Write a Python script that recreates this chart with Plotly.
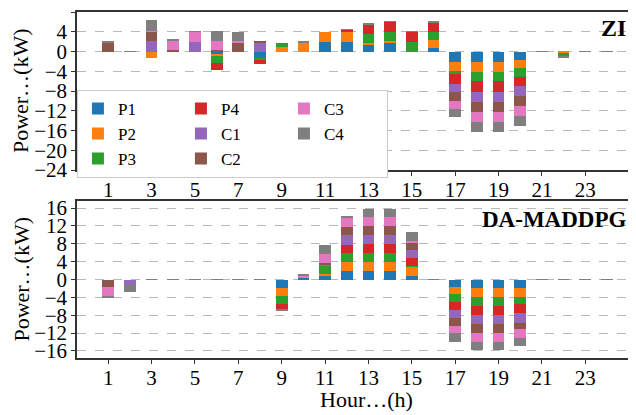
import plotly.graph_objects as go

hours = list(range(1, 25))
series = ["P1", "P2", "P3", "P4", "C1", "C2", "C3", "C4"]
colors = ["#1f77b4", "#ff7f0e", "#2ca02c", "#d62728", "#9467bd", "#8c564b", "#e377c2", "#7f7f7f"]

# ZI (top panel) values per hour 1..24
zi_P1 = [0, 0, 0, 0, 0, -0.4, 0, -1.37, 0, 0, 2.0, 2.0, 1.37, 1.86, 0, 0.7, -2.06, -2.06, -2.06, -1.72, 0, 0, 0, 0]
zi_P2 = [0, 0, -1.24, 0, 0, -0.6, 0, 0, 0.82, 1.86, 1.92, 2.0, 0.35, 0.2, 0, 1.72, -1.92, -2.06, -2.06, -1.65, 0, -0.2, 0, 0]
zi_P3 = [0, 0, 0, 0, 0, -1.4, 0, -0.35, 0.9, 0, 0, 0, 1.92, 1.92, 2.0, 1.58, -0.62, -1.92, -1.92, -1.79, 0, -0.82, 0, 0]
zi_P4 = [0, 0, 0, 0, 0, -1.4, 0, -0.8, 0, 0, 0, 0.4, 1.86, 2.0, 2.0, 1.92, -2.06, -2.06, -2.06, -1.72, 0, 0, 0, 0]
zi_C1 = [0, 0, 2.06, 0, 1.92, 0, 0, 1.92, 0, 0, 0, 0, 0, 0, 0, 0, -1.58, -2.06, -2.06, -2.06, 0, 0, 0, 0]
zi_C2 = [1.85, 0, 1.92, 0.3, 0, 0.3, 1.92, 0.1, 0, 0, 0, 0, 0, 0, 0, 0, -1.72, -2.06, -2.06, -2.06, 0, 0, 0, 0]
zi_C3 = [0, 0, 0.15, 1.85, 2.06, 1.85, 0.15, 0, 0, 0, 0, 0, 0, 0, 0, 0, -1.58, -2.06, -2.06, -2.06, 0, 0, 0, 0]
zi_C4 = [0.15, 0.1, 2.2, 0.4, 0.05, 2.06, 1.92, 0, 0, 0.1, 0, 0.15, 0.2, 0.14, 0.1, 0.14, -1.65, -1.92, -1.92, -2.0, 0.1, -0.1, 0.1, 0.1]

# DA-MADDPG (bottom panel) values per hour 1..24
da_P1 = [0, 0, 0, 0, 0, 0, 0, 0, -1.87, 0.35, 0.9, 2.0, 2.0, 2.0, 0.9, 0, -1.57, -2.0, -2.0, -2.0, 0, 0, 0, 0]
da_P2 = [0, 0, 0, 0, 0, 0, 0, 0, -1.87, 0, 0.37, 1.94, 1.94, 1.94, 2.0, 0, -1.57, -1.94, -1.94, -1.94, 0, 0, 0, 0]
da_P3 = [0, 0, 0, 0, 0, 0, 0, 0, -1.64, 0, 1.87, 2.1, 2.1, 2.1, 0.2, 0, -1.94, -2.0, -2.0, -1.64, 0, 0, 0, 0]
da_P4 = [0, 0, 0, 0, 0, 0, 0, 0, -1.34, 0, 0, 1.8, 1.94, 1.94, 1.8, 0, -1.64, -2.0, -2.0, -2.0, 0, 0, 0, 0]
da_C1 = [0, -1.12, 0, 0, 0, 0, 0, 0, 0, 0.1, 0.2, 2.24, 2.1, 2.1, 1.8, 0, -1.87, -2.1, -2.1, -2.1, 0, 0, 0, 0]
da_C2 = [-1.72, 0, 0, 0, 0, 0, 0, 0, 0, 0, 0.45, 1.8, 1.87, 1.87, 1.7, 0, -1.72, -1.87, -1.87, -1.5, 0, 0, 0, 0]
da_C3 = [-2.16, 0, 0, 0, 0, 0, 0, 0, 0, 0.4, 1.94, 2.1, 2.0, 2.0, 0.3, 0, -1.72, -2.1, -2.1, -2.0, 0, 0, 0, 0]
da_C4 = [-0.15, -1.72, 0.1, 0.1, 0.1, 0.1, 0.1, 0.1, -0.15, 0.2, 2.1, 0.37, 1.94, 1.94, 2.0, 0.1, -2.0, -1.87, -1.87, -1.72, 0.1, 0.1, 0.1, 0.1]

zi = [zi_P1, zi_P2, zi_P3, zi_P4, zi_C1, zi_C2, zi_C3, zi_C4]
da = [da_P1, da_P2, da_P3, da_P4, da_C1, da_C2, da_C3, da_C4]
legend_rank = [1, 4, 7, 2, 5, 8, 3, 6]

FONT = "Liberation Serif, Times New Roman, serif"
fig = go.Figure()
for i, name in enumerate(series):
    fig.add_trace(go.Bar(x=hours, y=zi[i], name=name, marker_color=colors[i], marker_line_width=0,
                         width=0.54, xaxis="x", yaxis="y", legendrank=legend_rank[i]))
for i, name in enumerate(series):
    fig.add_trace(go.Bar(x=hours, y=da[i], name=name, marker_color=colors[i], marker_line_width=0,
                         width=0.54, xaxis="x2", yaxis="y2", showlegend=False))

axis_common = dict(showline=True, linecolor="#333333", linewidth=1.5, ticks="outside", ticklen=4,
                   tickcolor="#333333", tickfont=dict(family=FONT, size=21, color="black"))
xcommon = dict(axis_common, range=[-0.44, 25.34], tickmode="linear", tick0=1, dtick=2,
               showgrid=False, zeroline=False, mirror=True, ticklabelstandoff=-4)
ycommon = dict(axis_common, showgrid=True, gridcolor="#b8b8b8", griddash="dash", gridwidth=1,
               zeroline=False, tickmode="linear", dtick=4)

fig.update_layout(
    width=628, height=407,
    margin=dict(l=69, r=0, t=4, b=57, autoexpand=False),
    paper_bgcolor="white", plot_bgcolor="white",
    barmode="relative", bargap=0,
    font=dict(family=FONT, size=21, color="black"),
    xaxis=dict(xcommon, domain=[0, 1], anchor="y"),
    yaxis=dict(ycommon, domain=[0.543, 1], range=[-24, 8], tick0=-24, anchor="x"),
    xaxis2=dict(xcommon, domain=[0, 1], anchor="y2"),
    yaxis2=dict(ycommon, domain=[0, 0.454], range=[-17.6, 17.6], tick0=-16, anchor="x2"),
    legend=dict(orientation="h", x=-0.0001, y=0.775, xanchor="left", yanchor="top",
                entrywidth=58, entrywidthmode="pixels", bgcolor="white",
                bordercolor="#cccccc", borderwidth=1, font=dict(family=FONT, size=17),
                traceorder="normal", tracegroupgap=0),
    showlegend=True,
    annotations=[
        dict(text="<b>ZI</b>", xref="paper", yref="paper", x=0.9857, y=0.954, xanchor="right",
             yanchor="middle", showarrow=False, font=dict(family=FONT, size=24)),
        dict(text="<b>DA-MADDPG</b>", xref="paper", yref="paper", x=0.9857, y=0.4017, xanchor="right",
             yanchor="middle", showarrow=False, font=dict(family=FONT, size=23)),
        dict(text="Power…(kW)", xref="paper", yref="paper", x=-0.1, y=0.7717, xanchor="center",
             yanchor="middle", textangle=-90, showarrow=False, font=dict(family=FONT, size=22)),
        dict(text="Power…(kW)", xref="paper", yref="paper", x=-0.1, y=0.2269, xanchor="center",
             yanchor="middle", textangle=-90, showarrow=False, font=dict(family=FONT, size=22)),
        dict(text="Hour…(h)", xref="paper", yref="paper", x=0.517, y=-0.121, xanchor="center",
             yanchor="middle", showarrow=False, font=dict(family=FONT, size=22)),
    ],
)

fig.write_html("out.html")
